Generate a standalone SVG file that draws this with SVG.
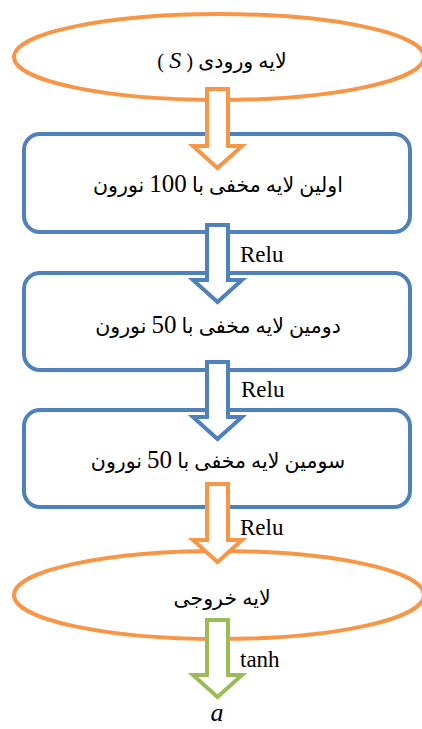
<svg xmlns="http://www.w3.org/2000/svg" width="422" height="729" viewBox="0 0 422 729">
<style>
.box{fill:#fff;stroke:#4F81BD;stroke-width:4}
.ell{fill:#fff;stroke:#F79646;stroke-width:4}
.fa{font-family:"Liberation Serif","DejaVu Sans",serif;font-size:20.5px;fill:#000;text-anchor:middle;direction:rtl;unicode-bidi:embed}
.num{font-family:"Liberation Serif",serif;font-size:25px}
.lbl{font-family:"Liberation Serif",serif;font-size:23px;fill:#000}
.ao{fill:#fff;stroke:#F79646;stroke-width:4}
.ab{fill:#fff;stroke:#4F81BD;stroke-width:4}
.ag{fill:#fff;stroke:#9BBB59;stroke-width:4}
</style>
<rect width="422" height="729" fill="#fff"/>
<g id="input">
<ellipse class="ell" cx="219" cy="57" rx="205" ry="43"/>
<text class="fa" x="222" y="68">لایه ورودی ( <tspan class="num" style="font-style:italic;font-size:24px">S</tspan> )</text>
</g>
<g id="hidden1">
<rect class="box" x="24" y="134" width="386" height="98" rx="16"/>
<text class="fa" x="218" y="192">اولین لایه مخفی با <tspan class="num">100</tspan> نورون</text>
</g>
<g id="hidden2">
<rect class="box" x="24" y="273" width="386" height="97" rx="16"/>
<text class="fa" x="218" y="333">دومین لایه مخفی با <tspan class="num">50</tspan> نورون</text>
</g>
<g id="hidden3">
<rect class="box" x="24" y="410" width="386" height="97" rx="16"/>
<text class="fa" x="218" y="468">سومین لایه مخفی با <tspan class="num">50</tspan> نورون</text>
</g>
<g id="output">
<ellipse class="ell" cx="219" cy="595" rx="205" ry="44"/>
<text class="fa" x="222" y="605">لایه خروجی</text>
</g>
<g id="connectors">
<path class="ao" d="M207,89 H228 V146 H242 L217.5,168 L193,146 H207 Z"/>
<path class="ab" d="M207,225 H228 V280 H242 L217.5,302 L193,280 H207 Z"/>
<text class="lbl" x="240" y="262">Relu</text>
<path class="ab" d="M207,362 H228 V417 H242 L217.5,439 L193,417 H207 Z"/>
<text class="lbl" x="241" y="397">Relu</text>
<path class="ao" d="M207,484 H228 V540 H242 L217.5,562 L193,540 H207 Z"/>
<text class="lbl" x="240" y="535">Relu</text>
<path class="ag" d="M207,620 H228 V675 H242 L217.5,697 L193,675 H207 Z"/>
<text class="lbl" x="240" y="667">tanh</text>
<text class="lbl" x="217" y="721" style="font-style:italic;font-size:26px;text-anchor:middle">a</text>
</g>
</svg>
